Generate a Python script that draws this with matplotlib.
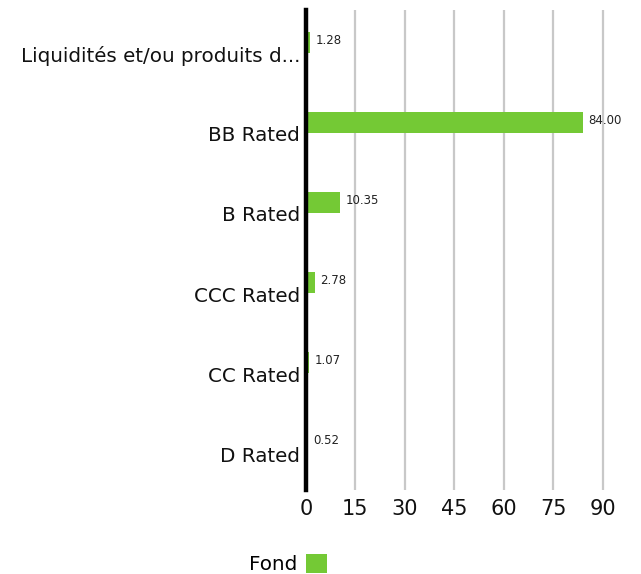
import numpy as np
import matplotlib.pyplot as plt
import matplotlib.transforms as mtransforms
from matplotlib.patches import Patch

categories = ['Liquidités et/ou produits d...', 'BB Rated', 'B Rated',
              'CCC Rated', 'CC Rated', 'D Rated']
values = [1.28, 84.00, 10.35, 2.78, 1.07, 0.52]
xticks = [0, 15, 30, 45, 60, 75, 90]
green = '#74c935'

plt.rcParams['font.family'] = ['DejaVu Sans']

fig = plt.figure(figsize=(6.41, 5.74), dpi=100)
ax = fig.add_axes([0.477, 0.146, 0.515, 0.837])

pos = np.arange(len(categories))
# bars sit in the upper part of each band
ax.barh(pos - 0.09, values, height=0.26, color=green, zorder=3)

for p, v in zip(pos, values):
    ax.annotate(f'{v:.2f}', xy=(v, p - 0.12), xytext=(4, 0),
                textcoords='offset points', va='center', ha='left',
                fontsize=8.5, color='#222222')

ax.set_ylim(5.5, -0.5)
ax.set_xlim(0, 100)
ax.set_yticks(pos)
ax.set_yticklabels(categories, fontsize=14.3, color='#111111')
ax.set_xticks(xticks)
ax.set_xticklabels([str(t) for t in xticks], fontsize=15, color='#111111')
ax.tick_params(length=0, pad=4)
ax.tick_params(axis='x', pad=6)
# nudge the category labels a little below the band centre
shift = mtransforms.ScaledTranslation(0, -4 / 100, fig.dpi_scale_trans)
for lbl in ax.get_yticklabels():
    lbl.set_transform(lbl.get_transform() + shift)

for t in xticks[1:]:
    ax.axvline(t, color='#c8c8c8', lw=1.6, zorder=1)

for s in ['top', 'right', 'bottom']:
    ax.spines[s].set_visible(False)
ax.spines['left'].set_linewidth(3.2)
ax.spines['left'].set_color('black')
ax.spines['left'].set_zorder(4)

handle = Patch(facecolor=green)
fig.legend([handle], ['Fond'], loc='center', bbox_to_anchor=(0.45, 0.018),
           frameon=False, markerfirst=False, fontsize=14.3,
           handlelength=1.1, handleheight=1.1, handletextpad=0.4)

fig.savefig('out.png', dpi=100)
